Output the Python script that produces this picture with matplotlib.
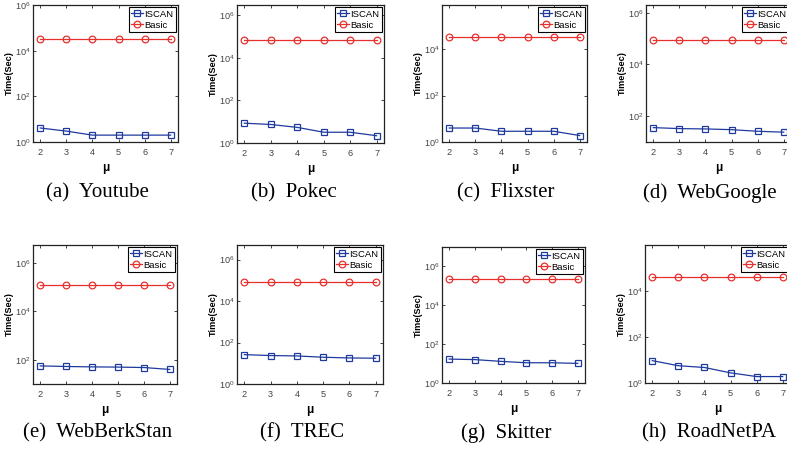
import math
import matplotlib
matplotlib.use("Agg")
import matplotlib.pyplot as plt
from matplotlib.ticker import FixedLocator, FixedFormatter, NullLocator

plt.rcParams['font.family'] = ['Liberation Sans', 'DejaVu Sans']
plt.rcParams['mathtext.fontset'] = 'custom'
plt.rcParams['mathtext.rm'] = 'Liberation Sans'
plt.rcParams['mathtext.it'] = 'Liberation Sans:italic'
plt.rcParams['mathtext.bf'] = 'Liberation Sans:bold'

mu = [2, 3, 4, 5, 6, 7]
captions = ["(a)  Youtube", "(b)  Pokec", "(c)  Flixster", "(d)  WebGoogle",
            "(e)  WebBerkStan", "(f)  TREC", "(g)  Skitter", "(h)  RoadNetPA"]

iscan_youtube = [4.1, 3.0, 2.0, 2.0, 2.0, 2.0]
basic_youtube = [3.3e4] * 6
iscan_pokec = [8.5, 7.4, 5.4, 3.2, 3.2, 2.2]
basic_pokec = [6.9e4] * 6
iscan_flixster = [4.0, 4.0, 2.9, 2.9, 2.9, 1.9]
basic_flixster = [3.4e4] * 6
iscan_webgoogle = [36, 33, 32, 30, 26, 24]
basic_webgoogle = [8.5e4] * 6
iscan_webberkstan = [56, 53, 51, 50, 48, 40]
basic_webberkstan = [1.3e5] * 6
iscan_trec = [26, 23.5, 22.5, 19.5, 18, 17.5]
basic_trec = [8.3e4] * 6
iscan_skitter = [17, 16, 13, 11, 11, 10.2]
basic_skitter = [2.3e5] * 6
iscan_roadnetpa = [9.3, 5.6, 4.7, 2.75, 1.9, 1.9]
basic_roadnetpa = [4.0e4] * 6

iscan_all = [iscan_youtube, iscan_pokec, iscan_flixster, iscan_webgoogle,
             iscan_webberkstan, iscan_trec, iscan_skitter, iscan_roadnetpa]
basic_all = [basic_youtube, basic_pokec, basic_flixster, basic_webgoogle,
             basic_webberkstan, basic_trec, basic_skitter, basic_roadnetpa]

ylims = [(1, 1e6), (1, 3e6), (1, 8e5), (10, 2e6),
         (10, 5.6e6), (1, 5e6), (1, 1e7), (1, 9.5e5)]

W, H = 787, 450
fig = plt.figure(figsize=(W / 100, H / 100), dpi=100)

# pixel boxes: left, right, top, bottom
boxes = [(33, 178, 5, 142), (237, 384, 5, 143), (442, 587, 5, 142), (646, 791, 5, 142),
         (33, 177, 245, 384), (237, 383, 245, 384), (442, 585, 247, 383), (645, 790, 245, 383)]
cap_x = [97, 294, 506, 710, 98, 302, 506, 709]
cap_y = [193, 193, 193, 193, 433, 433, 433, 433]

blue = '#1f3a9e'
red = '#e8302c'
tickcol = '#444444'

for i in range(8):
    l, r, t, b = boxes[i]
    ax = fig.add_axes([l / W, 1 - b / H, (r - l) / W, (b - t) / H])
    ax.plot(mu, iscan_all[i], color=blue, marker='s', markersize=4.4,
            markerfacecolor='none', markeredgewidth=0.9, linewidth=0.9, label='ISCAN')
    ax.plot(mu, basic_all[i], color=red, marker='o', markersize=4.8,
            markerfacecolor='none', markeredgewidth=0.9, linewidth=0.9, label='Basic')
    ax.set_yscale('log')
    ax.set_ylim(*ylims[i])
    ax.set_xlim(1.72, 7.28)
    yt = [v for v in [1, 1e2, 1e4, 1e6] if ylims[i][0] <= v <= ylims[i][1]]
    ax.yaxis.set_major_locator(FixedLocator(yt))
    ax.yaxis.set_major_formatter(FixedFormatter([r'$10^{%d}$' % round(math.log10(v)) for v in yt]))
    ax.yaxis.set_minor_locator(NullLocator())
    ax.set_xticks(mu)
    ax.tick_params(axis='both', which='both', direction='in', length=2.5, width=0.6,
                   labelsize=6.6, colors='#222222', labelcolor=tickcol, top=True, right=True)
    ax.tick_params(axis='y', pad=2)
    ax.tick_params(axis='x', pad=4.5)
    for s in ax.spines.values():
        s.set_linewidth(0.9)
        s.set_color('#222222')
    ax.set_ylabel('Time(Sec)', fontsize=6.6, fontweight='bold', labelpad=0.5)
    ax.set_xlabel('μ', fontsize=8.5, fontweight='bold', labelpad=3.5)
    leg = ax.legend(loc='upper right', fontsize=6.8, frameon=True, fancybox=False,
                    edgecolor='black', borderpad=0.25, labelspacing=0.2, handlelength=1.3,
                    handletextpad=0.1, borderaxespad=0.25, framealpha=1)
    leg.get_frame().set_linewidth(0.8)
    fig.text(cap_x[i] / W, 1 - cap_y[i] / H, captions[i], ha='center', va='center',
             fontsize=15, family='Liberation Serif')

fig.savefig('out.png', dpi=100)
